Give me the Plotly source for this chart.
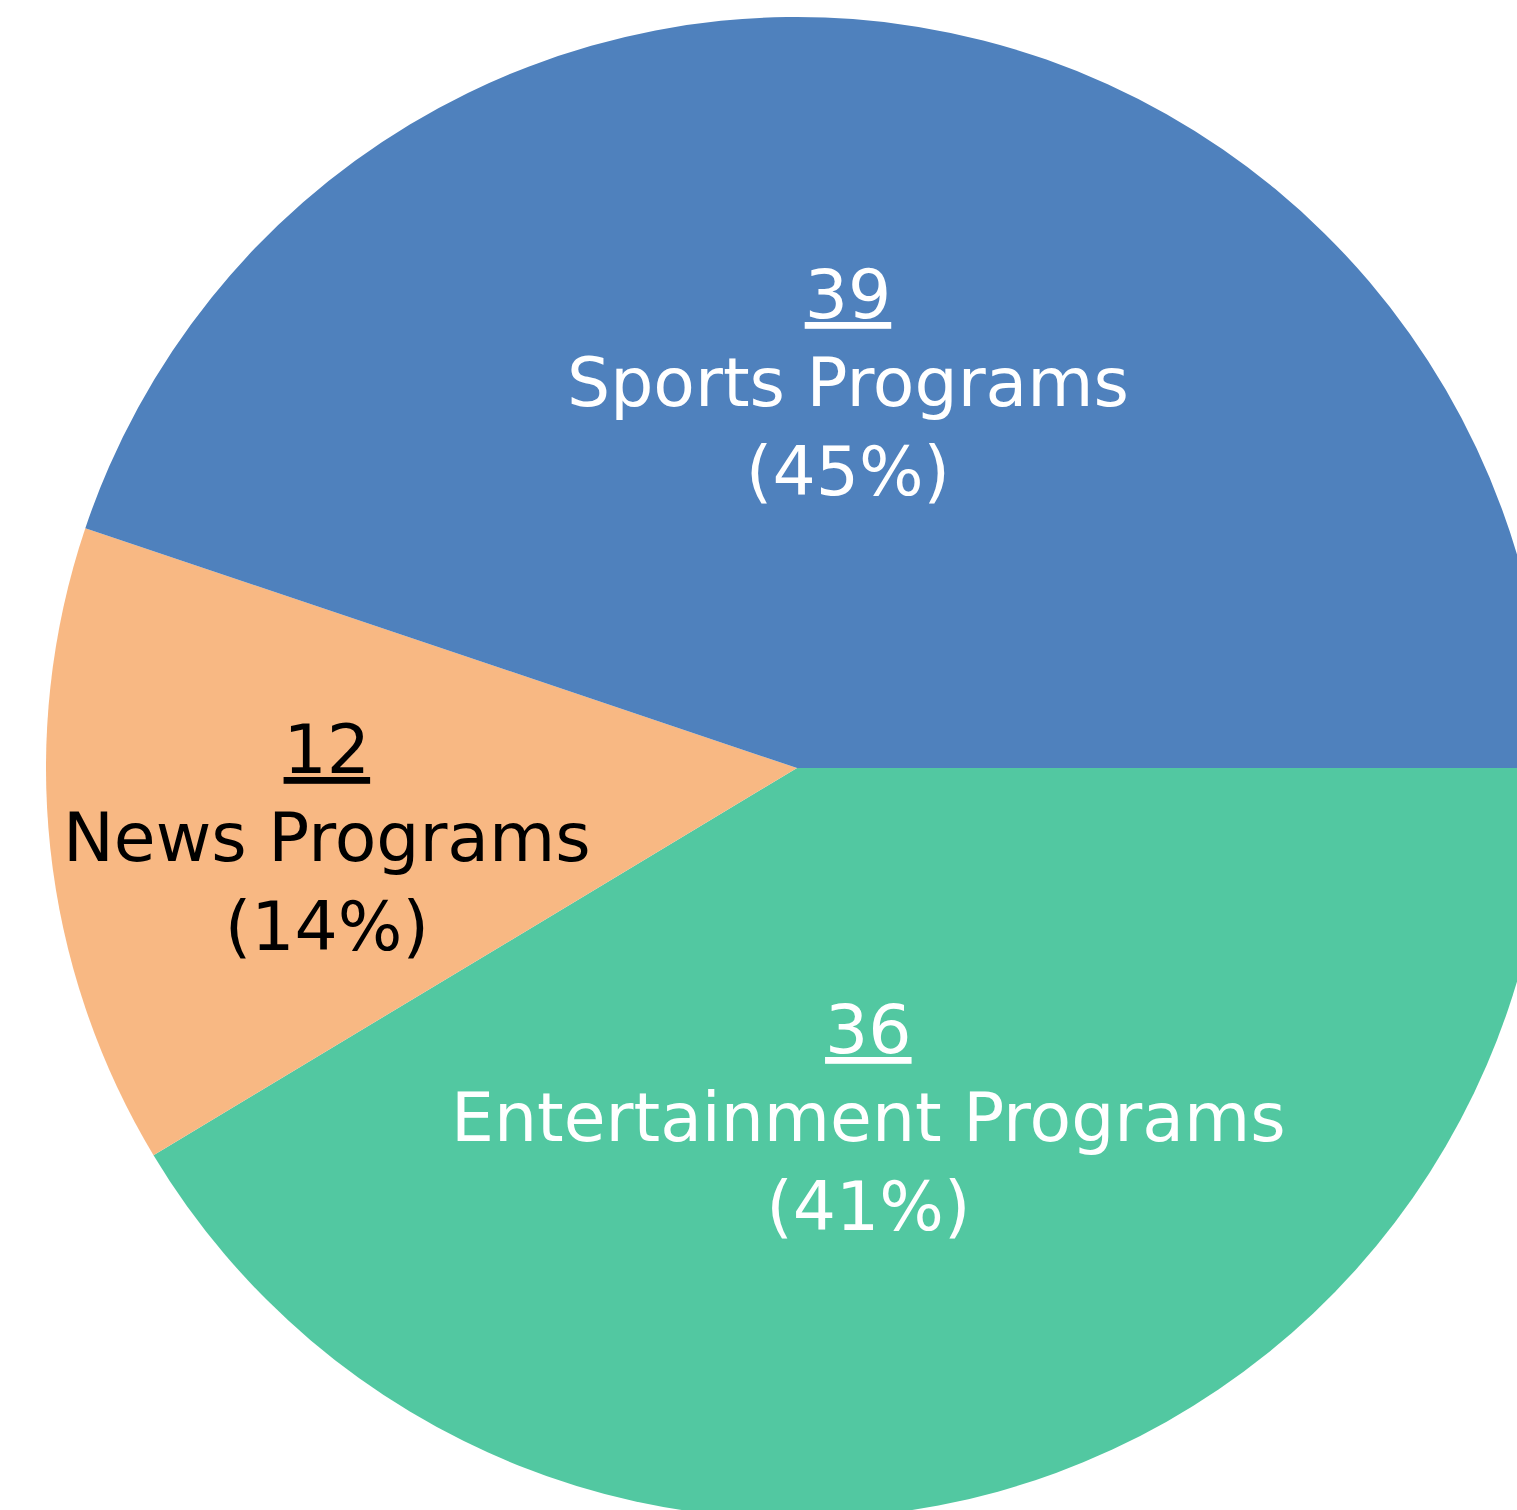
import plotly.graph_objects as go

# listed clockwise from 3 o'clock, as the slices sit in the reference
labels = ['Entertainment Programs', 'News Programs', 'Sports Programs']
counts = [36, 12, 39]
pcts = ['41%', '14%', '45%']
colors = ['#52C8A1', '#F8B883', '#4F81BD']
text_colors = ['white', 'black', 'white']

W, H = 1594, 1536  # pie spills past the right/bottom edge of the 1517x1510 view
# where each label block sits (pixel centre of its middle line)
label_pos = [(868, 1118), (327, 838), (848, 383)]

fig = go.Figure(go.Pie(
    labels=labels,
    values=counts,
    textinfo='none',
    marker=dict(colors=colors, line=dict(width=0)),
    sort=False,
    direction='clockwise',
    rotation=90,
    showlegend=False,
    hoverinfo='label+value+percent',
    domain=dict(x=[0, 1], y=[17 / H, 1 - 17 / H]),
))

for lab, n, p, c, (px, py) in zip(labels, counts, pcts, text_colors, label_pos):
    fig.add_annotation(
        x=px / W, y=1 - py / H, xref='paper', yref='paper',
        text=f'<u>{n}</u><br>{lab}<br>({p})',
        showarrow=False, xanchor='center', yanchor='middle', align='center',
        font=dict(family='DejaVu Sans', size=68, color=c),
    )

fig.update_layout(
    width=W, height=H,
    margin=dict(l=0, r=0, t=0, b=0),
    paper_bgcolor='white',
)

fig.write_html('out.html', post_script=(
    "document.documentElement.style.overflow='hidden';"
    "document.body.style.overflow='hidden';"
    "document.body.style.margin='0';"
))
